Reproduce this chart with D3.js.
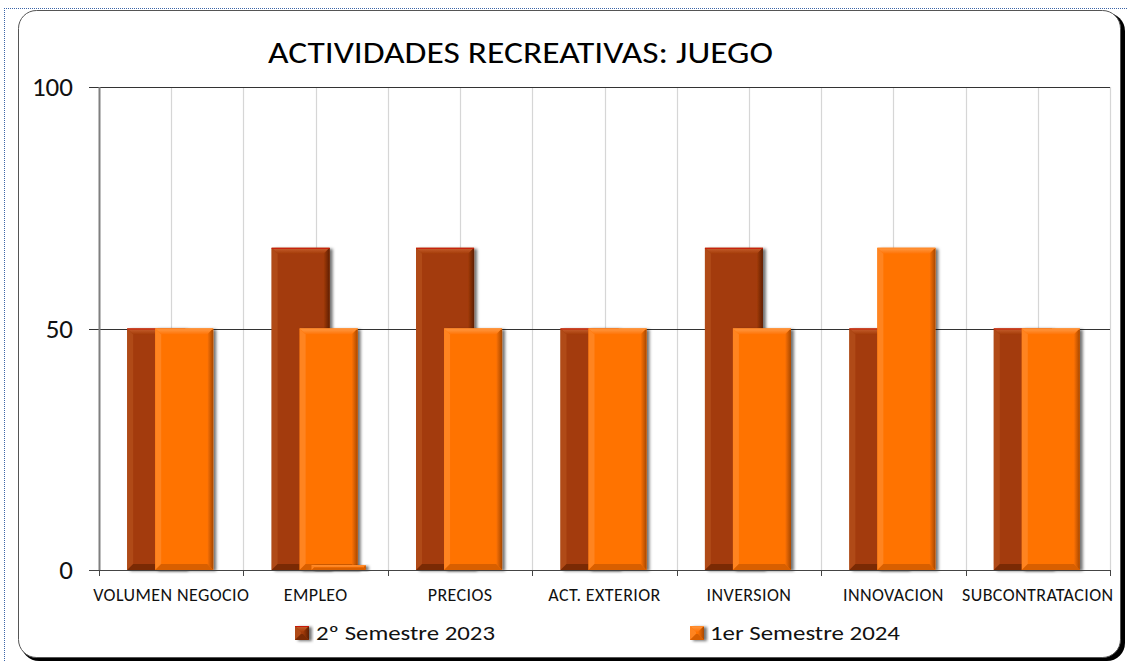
<!DOCTYPE html>
<html>
<head>
<meta charset="utf-8">
<script src="https://cdn.jsdelivr.net/npm/d3@7"></script>
<style>
  html, body { margin: 0; padding: 0; background: #fff; }
  svg { display: block; }
</style>
</head>
<body>
<svg id="chart" width="1127" height="662"></svg>
<script>
// ---- data ----
const categories = ["VOLUMEN NEGOCIO", "EMPLEO", "PRECIOS", "ACT. EXTERIOR", "INVERSION", "INNOVACION", "SUBCONTRATACION"];
const seriesNames = ["2º Semestre 2023", "1er Semestre 2024"];
const semestre2023 = [50, 66.7, 66.7, 50, 66.7, 50, 50];
const semestre2024 = [50, 50, 50, 50, 50, 66.7, 50];
const residual2024 = [0, 1, 0, 0, 0, 0, 0];   // small flat remnant bar under EMPLEO
const yTicks = [0, 50, 100];
const title = "ACTIVIDADES RECREATIVAS: JUEGO";

// ---- layout ----
const W = 1127, H = 662;
const plot = { left: 99, right: 1110, top: 87, bottom: 570 };
const FONT = "Carlito, Calibri, 'Liberation Sans', Arial, sans-serif";

const svg = d3.select("#chart");
const defs = svg.append("defs");

defs.append("filter").attr("id", "barShadow")
  .attr("x", "-20%").attr("y", "-20%").attr("width", "150%").attr("height", "150%")
  .append("feDropShadow")
  .attr("dx", 3).attr("dy", 1).attr("stdDeviation", 1.6)
  .attr("flood-color", "#000").attr("flood-opacity", 0.55);

const palettes = [
  { base: "#A33B08", top: "#C8602F", left: "#B04A17", right: "#5E1E02", bottom: "#7A2A04", edge: "#C81808" },
  { base: "#FF7304", top: "#FF9A45", left: "#FF8420", right: "#A84800", bottom: "#D85F00", edge: "#FF8A2A" }
];

// gradients for the top and right bevels
palettes.forEach((p, i) => {
  const gR = defs.append("linearGradient").attr("id", "bevR" + i).attr("x1", 0).attr("x2", 1).attr("y1", 0).attr("y2", 0);
  gR.append("stop").attr("offset", 0).attr("stop-color", p.base);
  gR.append("stop").attr("offset", 1).attr("stop-color", p.right);
  const gT = defs.append("linearGradient").attr("id", "bevT" + i).attr("x1", 0).attr("x2", 0).attr("y1", 0).attr("y2", 1);
  gT.append("stop").attr("offset", 0).attr("stop-color", p.top);
  gT.append("stop").attr("offset", 1).attr("stop-color", p.base);
});

// ---- frame ----
svg.append("line").attr("x1", 4.5).attr("x2", 4.5).attr("y1", 8).attr("y2", H)
  .attr("stroke", "#3B64A8").attr("stroke-width", 1).attr("stroke-dasharray", "1,1");
svg.append("line").attr("x1", 4).attr("x2", W).attr("y1", 8.5).attr("y2", 8.5)
  .attr("stroke", "#3B64A8").attr("stroke-width", 1).attr("stroke-dasharray", "1,1");

svg.append("rect").attr("x", 21).attr("y", 13).attr("width", 1104).attr("height", 648)
  .attr("rx", 18).attr("fill", "#000");
svg.append("rect").attr("x", 18.5).attr("y", 10.5).attr("width", 1102).attr("height", 647)
  .attr("rx", 18).attr("fill", "#fff").attr("stroke", "#555").attr("stroke-width", 1);

// ---- scales ----
const x = d3.scaleBand().domain(categories).range([plot.left, plot.right]).padding(0);
const y = d3.scaleLinear().domain([0, 100]).range([plot.bottom, plot.top]);
const barW = 58;
const offset = d3.scalePoint().domain(seriesNames).range([-44, -16]);

// vertical light grid at every half category
const halfSteps = d3.range(1, categories.length * 2 + 1);
svg.append("g").selectAll("line").data(halfSteps).join("line")
  .attr("x1", k => Math.round(plot.left + k * x.bandwidth() / 2) + 0.5)
  .attr("x2", k => Math.round(plot.left + k * x.bandwidth() / 2) + 0.5)
  .attr("y1", plot.top).attr("y2", plot.bottom)
  .attr("stroke", "#D6D6D6").attr("stroke-width", 1.2);

// horizontal grid (50, 100)
svg.append("g").selectAll("line").data(yTicks.filter(v => v > 0)).join("line")
  .attr("x1", plot.left - 10).attr("x2", plot.right)
  .attr("y1", v => Math.round(y(v)) + 0.5).attr("y2", v => Math.round(y(v)) + 0.5)
  .attr("stroke", "#333").attr("stroke-width", 1);

// ---- bars ----
function bevelBar(g, bx, by, w, h, i) {
  const p = palettes[i];
  const b = Math.min(6, h / 2);
  const grp = g.append("g");
  grp.append("rect").attr("x", bx).attr("y", by).attr("width", w).attr("height", h)
    .attr("fill", p.base).attr("filter", "url(#barShadow)");
  const poly = pts => pts.map(q => q.join(",")).join(" ");
  grp.append("polygon").attr("points", poly([[bx, by], [bx + w, by], [bx + w - b, by + b], [bx + b, by + b]]))
    .attr("fill", `url(#bevT${i})`);
  grp.append("polygon").attr("points", poly([[bx, by], [bx + b, by + b], [bx + b, by + h - b], [bx, by + h]]))
    .attr("fill", p.left);
  grp.append("polygon").attr("points", poly([[bx + w, by], [bx + w, by + h], [bx + w - b, by + h - b], [bx + w - b, by + b]]))
    .attr("fill", `url(#bevR${i})`);
  grp.append("polygon").attr("points", poly([[bx, by + h], [bx + w, by + h], [bx + w - b, by + h - b], [bx + b, by + h - b]]))
    .attr("fill", p.bottom);
  grp.append("line").attr("x1", bx).attr("x2", bx + w).attr("y1", by + 0.5).attr("y2", by + 0.5)
    .attr("stroke", p.edge).attr("stroke-width", 1);
}

const barsG = svg.append("g");
const seriesValues = [semestre2023, semestre2024];
categories.forEach((c, ci) => {
  seriesNames.forEach((s, si) => {
    const v = seriesValues[si][ci];
    const bx = x(c) + x.bandwidth() / 2 + offset(s);
    bevelBar(barsG, bx, y(v), barW, y(0) - y(v), si);
  });
  const r = residual2024[ci];
  if (r > 0) {
    const bx = x(c) + x.bandwidth() / 2 + offset(seriesNames[1]) + 12;
    bevelBar(barsG, bx, y(r), barW - 4, y(0) - y(r), 1);
  }
});

// ---- axes ----
svg.append("line").attr("x1", plot.left + 0.5).attr("x2", plot.left + 0.5)
  .attr("y1", plot.top).attr("y2", plot.bottom)
  .attr("stroke", "#7F7F7F").attr("stroke-width", 2);

const xAxis = d3.axisBottom(x).tickSize(0).tickFormat(d => d);
const xg = svg.append("g").attr("transform", `translate(0,${plot.bottom})`).call(xAxis);
xg.select(".domain").remove();
xg.selectAll("text").attr("dy", 0).attr("y", 31)
  .attr("font-family", FONT)
  .attr("font-size", 18).attr("letter-spacing", 0.4).attr("fill", "#111");
svg.append("line").attr("x1", plot.left - 10).attr("x2", plot.right)
  .attr("y1", plot.bottom + 0.5).attr("y2", plot.bottom + 0.5)
  .attr("stroke", "#444").attr("stroke-width", 1);
// category separator ticks
svg.append("g").selectAll("line").data(d3.range(0, categories.length + 1)).join("line")
  .attr("x1", k => Math.round(plot.left + k * x.bandwidth()) + 0.5)
  .attr("x2", k => Math.round(plot.left + k * x.bandwidth()) + 0.5)
  .attr("y1", plot.bottom).attr("y2", plot.bottom + 6)
  .attr("stroke", "#444").attr("stroke-width", 1);

svg.append("g").selectAll("text").data(yTicks).join("text")
  .attr("x", 73).attr("y", v => y(v) + 9)
  .attr("text-anchor", "end")
  .attr("font-family", FONT)
  .attr("font-size", 27).attr("fill", "#111")
  .text(v => v);

// ---- title ----
svg.append("text").attr("x", 268).attr("y", 63)
  .attr("font-family", FONT)
  .attr("font-size", 30).attr("fill", "#000")
  .attr("textLength", 505).attr("lengthAdjust", "spacingAndGlyphs")
  .text(title);

// ---- legend ----
const legendPos = [{ sx: 295, tx: 316, tl: 179 }, { sx: 690, tx: 710, tl: 190 }];
seriesNames.forEach((s, i) => {
  const lp = legendPos[i];
  const lg = svg.append("g");
  bevelBar(lg, lp.sx, 626, 14, 14, i);
  lg.append("text").attr("x", lp.tx).attr("y", 640)
    .attr("font-family", FONT)
    .attr("font-size", 20).attr("fill", "#111")
    .attr("textLength", lp.tl).attr("lengthAdjust", "spacingAndGlyphs")
    .text(s);
});
</script>
</body>
</html>
